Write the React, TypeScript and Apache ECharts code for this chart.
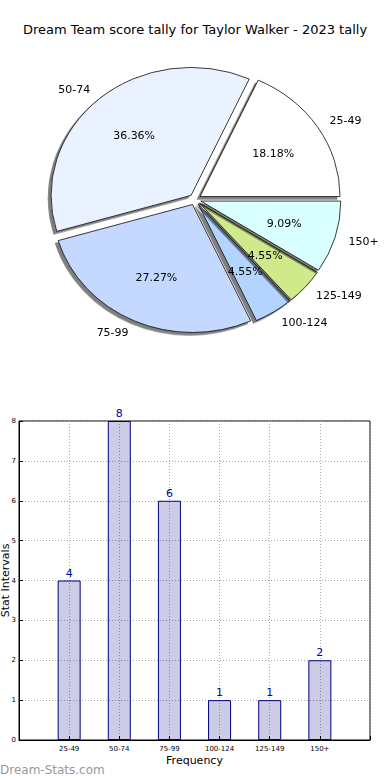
import React, { useEffect, useRef } from "react";
import * as echarts from "echarts";

const categories = ["25-49", "50-74", "75-99", "100-124", "125-149", "150+"];
const counts = [4, 8, 6, 1, 1, 2];
const pieColors = ["#FFFFFF", "#EAF1FF", "#C5D8FF", "#B3D4FF", "#D0E98A", "#DAFFFF"];
const yTicks = [0, 1, 2, 3, 4, 5, 6, 7, 8];

const FONT = "DejaVu Sans";

export default function App() {
  const mainRef = useRef<HTMLDivElement>(null);
  const pieRef = useRef<HTMLDivElement>(null);

  useEffect(() => {
    const main = echarts.init(mainRef.current!, undefined, { renderer: "svg" });
    const pie = echarts.init(pieRef.current!, undefined, { renderer: "svg" });

    const gridLine = { show: true, lineStyle: { type: [1, 2], color: "#aaa", width: 1 } };

    main.setOption({
      animation: false,
      textStyle: { fontFamily: FONT },
      title: {
        text: "Dream Team score tally for Taylor Walker - 2023 tally",
        left: "center",
        top: 18,
        textStyle: { fontFamily: FONT, fontSize: 13, fontWeight: "normal", color: "#000" },
      },
      grid: {
        left: 19,
        right: 20,
        top: 421,
        bottom: 40,
        containLabel: false,
        outerBoundsMode: "none",
        show: true,
        borderColor: "#000",
        borderWidth: 1,
        backgroundColor: "transparent",
      },
      xAxis: {
        type: "value",
        min: 0,
        max: categories.length + 1,
        interval: 1,
        name: "Frequency",
        nameLocation: "middle",
        nameGap: 15,
        nameMoveOverlap: false,
        nameTextStyle: { fontFamily: FONT, fontSize: 11, color: "#000" },
        axisLine: { show: true, lineStyle: { color: "#000", width: 1 } },
        axisTick: { show: true, inside: true, length: 4, lineStyle: { color: "#000" } },
        axisLabel: {
          fontFamily: FONT,
          fontSize: 7,
          color: "#000",
          margin: 5,
          formatter: (v: number) => categories[v - 1] ?? "",
        },
        splitLine: gridLine,
      },
      yAxis: {
        type: "value",
        min: 0,
        max: yTicks[yTicks.length - 1],
        interval: 1,
        name: "Stat Intervals",
        nameLocation: "middle",
        nameRotate: 90,
        nameGap: 8,
        nameMoveOverlap: false,
        nameTextStyle: { fontFamily: FONT, fontSize: 11, color: "#000" },
        axisLine: { show: true, lineStyle: { color: "#000", width: 1 } },
        axisTick: { show: true, inside: true, length: 4, lineStyle: { color: "#000" } },
        axisLabel: { fontFamily: FONT, fontSize: 7, color: "#000", margin: 3 },
        splitLine: gridLine,
      },
      series: [
        {
          type: "bar",
          data: counts.map((v, i) => [i + 1, v]),
          barWidth: 23,
          itemStyle: {
            color: "rgba(0,0,128,0.2)",
            borderColor: "#000080",
            borderWidth: 1,
          },
          label: {
            show: true,
            position: "top",
            distance: 2,
            fontFamily: FONT,
            fontSize: 11,
            color: "#0000AA",
            formatter: (p: any) => String(p.value[1]),
          },
          silent: true,
        },
      ],
      graphic: [
        {
          type: "text",
          left: 0,
          top: 764,
          style: {
            text: "Dream-Stats.com",
            fontFamily: FONT,
            fontSize: 12,
            fill: "#999",
          },
        },
      ],
    });

    const pieData = categories.map((c, i) => ({
      name: c,
      value: counts[i],
      selected: true,
      itemStyle: { color: pieColors[i] },
    }));

    pie.setOption({
      animation: false,
      series: [
        {
          type: "pie",
          center: [195, 218.3],
          radius: [0, 140],
          startAngle: 0,
          clockwise: false,
          selectedMode: "multiple",
          selectedOffset: 6,
          avoidLabelOverlap: false,
          silent: true,
          emphasis: { disabled: true },
          itemStyle: {
            borderColor: "#000",
            borderWidth: 0.8,
            shadowColor: "rgba(0,0,0,0.5)",
            shadowOffsetX: -3,
            shadowOffsetY: 3,
            shadowBlur: 0,
          },
          label: {
            show: true,
            position: "outside",
            formatter: "{b}",
            fontFamily: FONT,
            fontSize: 11,
            color: "#000",
            distanceToLabelLine: 0,
          },
          labelLine: { show: true, length: 14, length2: 0, lineStyle: { color: "rgba(0,0,0,0)", width: 0 } },
          data: pieData,
        },
        {
          type: "pie",
          center: [195, 218.3],
          radius: [0, 168],
          startAngle: 0,
          clockwise: false,
          selectedMode: "multiple",
          selectedOffset: 6,
          avoidLabelOverlap: false,
          silent: true,
          emphasis: { disabled: true },
          itemStyle: { color: "rgba(0,0,0,0)", borderWidth: 0 },
          label: {
            show: true,
            position: "inside",
            formatter: "{d}%",
            fontFamily: FONT,
            fontSize: 11,
            color: "#000",
          },
          labelLine: { show: false },
          data: pieData.map((d) => ({ ...d, itemStyle: { color: "rgba(0,0,0,0)" } })),
        },
      ],
    });

    return () => {
      main.dispose();
      pie.dispose();
    };
  }, []);

  return (
    <div style={{ position: "absolute", top: 0, left: 0, width: 390, height: 780, background: "#fff" }}>
      <div ref={mainRef} style={{ position: "absolute", top: 0, left: 0, width: 390, height: 780 }} />
      <div
        ref={pieRef}
        style={{
          position: "absolute",
          top: 0,
          left: 0,
          width: 390,
          height: 440,
          transform: "scaleY(0.914)",
          transformOrigin: "0 0",
          pointerEvents: "none",
        }}
      />
    </div>
  );
}
